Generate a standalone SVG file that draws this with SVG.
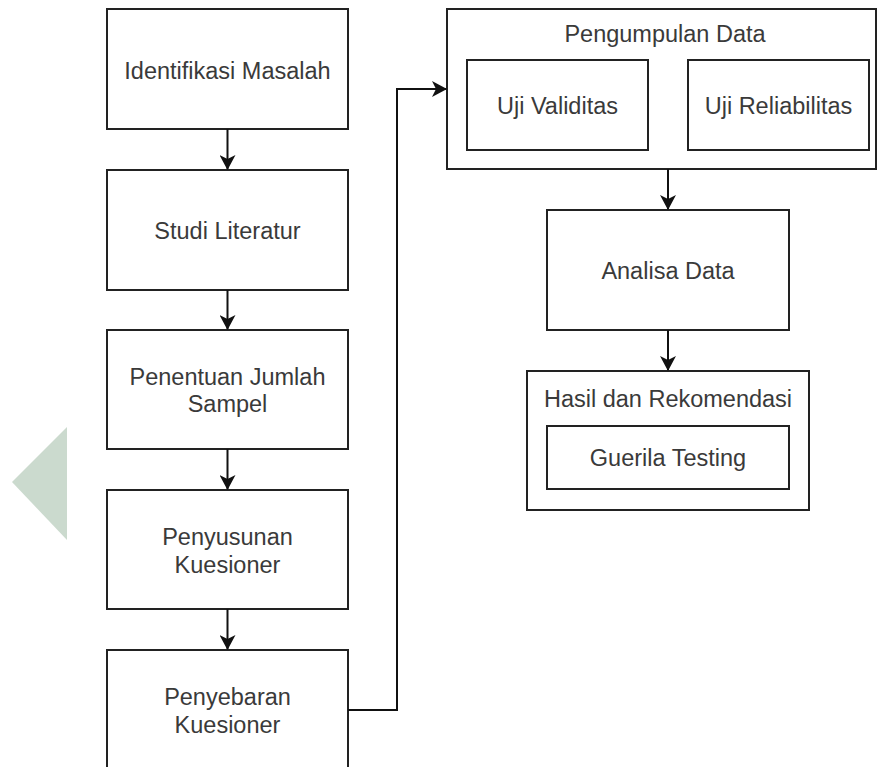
<svg xmlns="http://www.w3.org/2000/svg" width="878" height="767" viewBox="0 0 878 767">
<style>
.box{fill:#fff;stroke:#222;stroke-width:2}
.t{font-family:"Liberation Sans",Arial,sans-serif;font-size:23.5px;fill:#3a3a3a;text-anchor:middle}
.c{fill:none;stroke:#111;stroke-width:2}
</style>
<defs>
<marker id="ah" markerWidth="16" markerHeight="16" refX="14" refY="8" orient="auto" markerUnits="userSpaceOnUse">
<path d="M0,0 L15,8 L0,16 L4,8 Z" fill="#111"/>
</marker>
</defs>
<rect width="878" height="767" fill="#fff"/>
<polygon points="12,482 67,427 67,540" fill="#cbdace"/>
<g id="n1"><rect class="box" x="107" y="9" width="241" height="120"/><text class="t" x="227.5" y="79">Identifikasi Masalah</text></g>
<g id="n2"><rect class="box" x="107" y="170" width="241" height="120"/><text class="t" x="227.5" y="239">Studi Literatur</text></g>
<g id="n3"><rect class="box" x="107" y="330" width="241" height="119"/><text class="t" x="227.5" y="385">Penentuan Jumlah</text><text class="t" x="227.5" y="412">Sampel</text></g>
<g id="n4"><rect class="box" x="107" y="490" width="241" height="119"/><text class="t" x="227.5" y="545">Penyusunan</text><text class="t" x="227.5" y="573">Kuesioner</text></g>
<g id="n5"><rect class="box" x="107" y="650" width="241" height="130"/><text class="t" x="227.5" y="705">Penyebaran</text><text class="t" x="227.5" y="733">Kuesioner</text></g>
<g id="n6"><rect class="box" x="447" y="9" width="429" height="160"/><text class="t" x="665" y="42">Pengumpulan Data</text></g>
<g id="n7"><rect class="box" x="467" y="60" width="181" height="90"/><text class="t" x="557.5" y="114">Uji Validitas</text></g>
<g id="n8"><rect class="box" x="688" y="60" width="181" height="90"/><text class="t" x="778.5" y="114">Uji Reliabilitas</text></g>
<g id="n9"><rect class="box" x="547" y="210" width="242" height="120"/><text class="t" x="668" y="279">Analisa Data</text></g>
<g id="n10"><rect class="box" x="527" y="371" width="282" height="139"/><text class="t" x="668" y="407">Hasil dan Rekomendasi</text></g>
<g id="n11"><rect class="box" x="547" y="426" width="242" height="63"/><text class="t" x="668" y="466">Guerila Testing</text></g>
<g id="connectors">
<line class="c" x1="227.5" y1="129" x2="227.5" y2="169" marker-end="url(#ah)"/>
<line class="c" x1="227.5" y1="290" x2="227.5" y2="329" marker-end="url(#ah)"/>
<line class="c" x1="227.5" y1="449" x2="227.5" y2="489" marker-end="url(#ah)"/>
<line class="c" x1="227.5" y1="609" x2="227.5" y2="649" marker-end="url(#ah)"/>
<polyline class="c" points="348,710 397,710 397,89 446,89" marker-end="url(#ah)"/>
<line class="c" x1="668" y1="169" x2="668" y2="209" marker-end="url(#ah)"/>
<line class="c" x1="668" y1="330" x2="668" y2="370" marker-end="url(#ah)"/>
</g>
</svg>
